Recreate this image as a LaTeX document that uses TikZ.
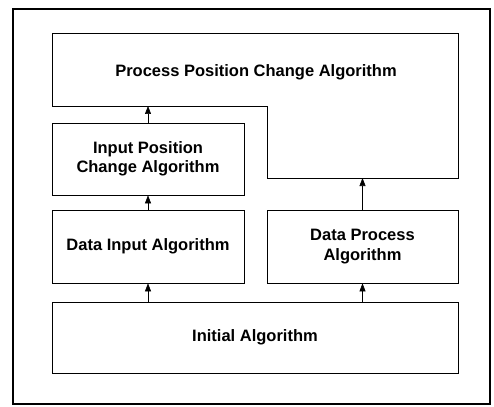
\documentclass[tikz,border=0pt]{standalone}
\usepackage{fontspec}
\setmainfont{Liberation Sans}
\usetikzlibrary{arrows.meta}

\begin{document}
\begin{tikzpicture}[
    x=1pt, y=-1pt,
    line width=0.7pt,
    every node/.style={
        font=\fontsize{16.5}{19.5}\selectfont\bfseries,
        align=center,
        inner sep=0pt},
    algbox/.style={
        draw,
        minimum width=192pt,
        minimum height=73pt},
    widebox/.style={
        algbox,
        minimum width=406pt,
        minimum height=71pt},
    up/.style={-{Triangle[width=6pt,length=8pt]}, line width=0.6pt}]
    \useasboundingbox (0,0) rectangle (494,406);
    \draw[line width=1.2pt] (13,9) rectangle (490,404);

    % top block is not a rectangle
    \draw (52,33) -- (458,33) -- (458,178) -- (267,178) -- (267,106) -- (52,106) -- cycle;
    \node (ppc) at (256,72) {Process Position Change Algorithm};
    \coordinate (ppcL) at (148,106);
    \coordinate (ppcR) at (362.5,178);

    \node[algbox, minimum height=72pt] (ipc) at (148,159) {Input Position\\Change Algorithm};
    \node[algbox] (di) at (148,246.5) {Data Input Algorithm};
    \node[algbox, minimum width=191pt] (dp) at (362.5,246.5) {Data Process\\Algorithm};
    \node[widebox] (init) at (255,337.5) {Initial Algorithm};

    \draw[up] (init.north -| di.south) -- (di.south);
    \draw[up] (init.north -| dp.south) -- (dp.south);
    \draw[up] (di.north) -- (ipc.south);
    \draw[up] (ipc.north) -- (ppcL);
    \draw[up] (dp.north) -- (ppcR);
\end{tikzpicture}
\end{document}
